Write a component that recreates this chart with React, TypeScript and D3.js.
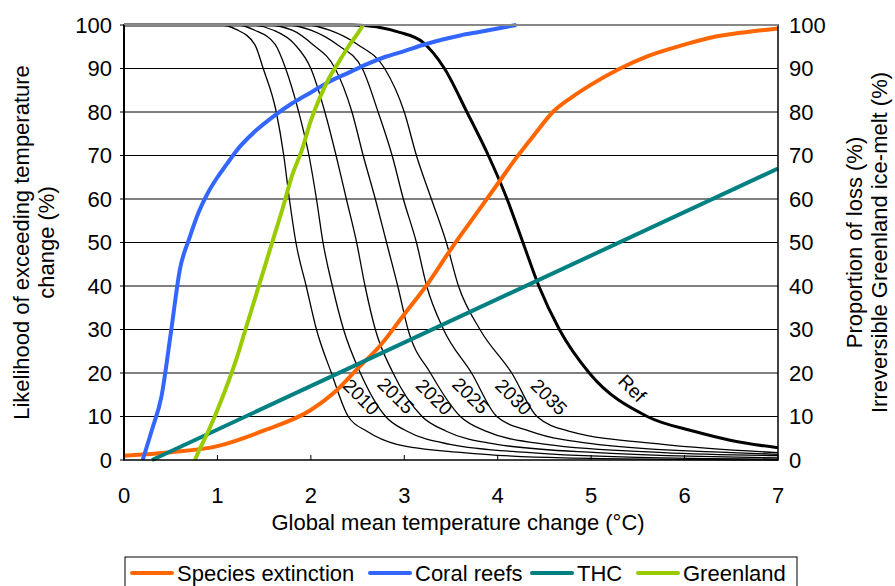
import * as d3 from 'd3';
import React, { useEffect, useRef } from 'react';

// x = global mean temperature change (°C), y = percent
const speciesExtinction = [
  [0, 1], [0.5, 1.8], [1, 3.2], [1.5, 6.8], [2, 11.5], [2.25, 15.5], [2.5, 21], [2.75, 26.5],
  [3, 33.5], [3.25, 40.5], [3.5, 48.5], [3.75, 56], [4, 63.5], [4.2, 69.5], [4.4, 75],
  [4.59, 80], [4.8, 83.5], [5, 86.3], [5.31, 90], [5.6, 92.8], [6, 95.5], [6.3, 97.2],
  [6.6, 98.2], [7, 99.2],
];
const coralReefs = [
  [0.2, 0], [0.3, 7], [0.4, 14.5], [0.5, 29], [0.6, 44], [0.7, 51], [0.8, 57], [0.9, 61.5],
  [1.0, 65], [1.1, 68], [1.2, 71], [1.4, 75.5], [1.6, 79], [1.8, 82], [2.0, 84.5], [2.2, 87],
  [2.4, 89], [2.6, 91], [2.8, 92.7], [3.0, 94], [3.2, 95.4], [3.4, 96.6], [3.6, 97.6],
  [3.8, 98.4], [4.0, 99.2], [4.2, 100],
];
const thc = [[0.3, 0], [7, 67]];
const greenland = [
  [0.76, 0], [0.8, 2], [0.9, 6.5], [1.0, 11.5], [1.1, 17], [1.2, 23], [1.3, 30], [1.4, 37],
  [1.5, 44], [1.6, 51], [1.7, 58], [1.8, 65.5], [1.9, 71], [2.0, 78], [2.1, 83.5], [2.2, 88],
  [2.3, 91.5], [2.4, 95], [2.5, 98], [2.56, 100],
];

// likelihood of exceeding temperature change, per stabilisation year
const likelihood2010 = [
  [0, 100], [1.03, 100], [1.2, 99], [1.4, 95.5], [1.49, 90], [1.63, 80], [1.71, 70], [1.77, 60],
  [1.84, 50], [1.95, 40], [2.06, 30], [2.22, 20], [2.4, 10], [2.6, 6.6], [2.92, 3.6],
  [3.63, 1.7], [4.7, 0.5], [7, 0],
];
const likelihood2015 = [
  [0, 100], [1.21, 100], [1.4, 98.8], [1.62, 95.5], [1.73, 90], [1.87, 80], [1.98, 70],
  [2.06, 60], [2.13, 50], [2.23, 40], [2.35, 30], [2.53, 20], [2.8, 10], [3.03, 6.6],
  [3.49, 3.6], [4.35, 1.7], [5.5, 0.6], [7, 0.2],
];
const likelihood2020 = [
  [0, 100], [1.35, 100], [1.6, 98.8], [1.83, 95.5], [2.0, 90], [2.15, 80], [2.27, 70],
  [2.38, 60], [2.49, 50], [2.58, 40], [2.69, 30], [2.88, 20], [3.19, 10], [3.45, 6.6],
  [3.99, 3.6], [5.06, 1.7], [7, 0.5],
];
const likelihood2025 = [
  [0, 100], [1.53, 100], [1.8, 98.8], [2.02, 95.5], [2.26, 90], [2.44, 80], [2.56, 70],
  [2.69, 60], [2.81, 50], [2.93, 40], [3.04, 30], [3.28, 20], [3.6, 10], [3.88, 6.6],
  [4.52, 3.6], [5.77, 1.7], [7, 1],
];
const likelihood2030 = [
  [0, 100], [1.74, 100], [2.0, 98.8], [2.28, 95.5], [2.55, 90], [2.72, 80], [2.87, 70],
  [2.99, 60], [3.13, 50], [3.24, 40], [3.42, 30], [3.72, 20], [3.99, 10], [4.35, 6.6],
  [5.06, 3.6], [6.5, 1.7], [7, 1.3],
];
const likelihood2035 = [
  [0, 100], [1.96, 100], [2.2, 98.8], [2.5, 95.5], [2.79, 90], [3.0, 80], [3.13, 70],
  [3.29, 60], [3.45, 50], [3.58, 40], [3.81, 30], [4.15, 20], [4.42, 10], [4.77, 6.6],
  [5.77, 3.6], [7, 1.7],
];
const likelihoodRef = [
  [0, 100], [2.45, 100], [2.95, 98.3], [3.2, 96], [3.43, 90], [3.67, 80], [3.9, 70],
  [4.1, 60], [4.27, 50], [4.44, 40], [4.66, 30], [4.98, 20], [5.6, 10], [6.1, 6.6],
  [6.5, 4.5], [7, 2.8],
];

const yearLabels = ['2010', '2015', '2020', '2025', '2030', '2035', 'Ref'];
// where each curve label sits (°C, %)
const yearLabelAt = [
  [2.54, 14.5], [2.91, 14.8], [3.32, 14.5], [3.71, 14.8], [4.17, 14.5], [4.55, 14.5], [5.44, 16.5],
];

const xTicks = [0, 1, 2, 3, 4, 5, 6, 7];
const yTicks = [0, 10, 20, 30, 40, 50, 60, 70, 80, 90, 100];

const legendNames = ['Species extinction', 'Coral reefs', 'THC', 'Greenland'];
const legendColors = ['#FF6600', '#3366FF', '#008080', '#99CC00'];

const width = 895;
const height = 586;
const FONT = 'Liberation Sans, Arial, sans-serif';
const FS = '22px';

const App = () => {
  const svgRef = useRef(null);

  useEffect(() => {
    const svg = d3.select(svgRef.current);
    svg.selectAll('*').remove();

    const x = d3.scaleLinear().domain([0, 7]).range([124, 778]);
    const y = d3.scaleLinear().domain([0, 100]).range([460, 25]);

    const line = d3
      .line()
      .x((d) => x(d[0]))
      .y((d) => y(d[1]))
      .curve(d3.curveMonotoneX);

    // grid
    svg
      .append('g')
      .selectAll('line')
      .data(yTicks.slice(1, -1))
      .enter()
      .append('line')
      .attr('x1', x(0))
      .attr('x2', x(7))
      .attr('y1', (d) => y(d))
      .attr('y2', (d) => y(d))
      .attr('stroke', '#000')
      .attr('stroke-width', 1);

    // black likelihood curves
    const blackCurves = [
      likelihood2010, likelihood2015, likelihood2020, likelihood2025, likelihood2030, likelihood2035,
    ];
    svg
      .append('g')
      .selectAll('path')
      .data(blackCurves)
      .enter()
      .append('path')
      .attr('d', (d) => line(d))
      .attr('fill', 'none')
      .attr('stroke', '#000')
      .attr('stroke-width', 1.3);

    svg
      .append('path')
      .attr('d', line(likelihoodRef))
      .attr('fill', 'none')
      .attr('stroke', '#000')
      .attr('stroke-width', 3);

    // coloured series
    const series = [speciesExtinction, coralReefs, thc, greenland];
    svg
      .append('g')
      .selectAll('path')
      .data(series)
      .enter()
      .append('path')
      .attr('d', (d) => line(d))
      .attr('fill', 'none')
      .attr('stroke', (d, i) => legendColors[i])
      .attr('stroke-width', 4)
      .attr('stroke-linejoin', 'round');

    // curve labels
    svg
      .append('g')
      .selectAll('text')
      .data(yearLabels)
      .enter()
      .append('text')
      .attr('transform', (d, i) => `translate(${x(yearLabelAt[i][0])},${y(yearLabelAt[i][1])}) rotate(45)`)
      .attr('text-anchor', 'middle')
      .attr('dy', '0.35em')
      .style('font-family', FONT)
      .style('font-size', '19px')
      .attr('fill', '#000')
      .text((d) => d);

    // frame
    svg
      .append('rect')
      .attr('x', x(0))
      .attr('y', y(100))
      .attr('width', x(7) - x(0))
      .attr('height', y(0) - y(100))
      .attr('fill', 'none')
      .attr('stroke', '#000')
      .attr('stroke-width', 1.5);
    svg
      .append('line')
      .attr('x1', x(0))
      .attr('x2', x(7))
      .attr('y1', y(100))
      .attr('y2', y(100))
      .attr('stroke', '#888')
      .attr('stroke-width', 2);
    svg
      .append('line')
      .attr('x1', x(0))
      .attr('x2', x(0))
      .attr('y1', y(100))
      .attr('y2', y(0))
      .attr('stroke', '#000')
      .attr('stroke-width', 2);

    // x ticks + labels
    const xg = svg.append('g');
    xg.selectAll('line')
      .data(xTicks)
      .enter()
      .append('line')
      .attr('x1', (d) => x(d))
      .attr('x2', (d) => x(d))
      .attr('y1', y(0))
      .attr('y2', y(0) - 5)
      .attr('stroke', '#000');
    xg.selectAll('text')
      .data(xTicks)
      .enter()
      .append('text')
      .attr('x', (d) => x(d))
      .attr('y', 503)
      .attr('text-anchor', 'middle')
      .style('font-family', FONT)
      .style('font-size', FS)
      .text((d) => d);

    // y ticks + labels, both sides
    const yg = svg.append('g');
    yg.selectAll('line.l')
      .data(yTicks)
      .enter()
      .append('line')
      .attr('x1', x(0) - 4)
      .attr('x2', x(0))
      .attr('y1', (d) => y(d))
      .attr('y2', (d) => y(d))
      .attr('stroke', '#000');
    yg.selectAll('text.l')
      .data(yTicks)
      .enter()
      .append('text')
      .attr('x', 112)
      .attr('y', (d) => y(d))
      .attr('dy', '0.36em')
      .attr('text-anchor', 'end')
      .style('font-family', FONT)
      .style('font-size', FS)
      .text((d) => d);
    yg.selectAll('text.r')
      .data(yTicks)
      .enter()
      .append('text')
      .attr('x', 789)
      .attr('y', (d) => y(d))
      .attr('dy', '0.36em')
      .attr('text-anchor', 'start')
      .style('font-family', FONT)
      .style('font-size', FS)
      .text((d) => d);

    // axis titles
    svg
      .append('text')
      .attr('x', (x(0) + x(7)) / 2 + 7)
      .attr('y', 530)
      .attr('text-anchor', 'middle')
      .style('font-family', FONT)
      .style('font-size', FS)
      .text('Global mean temperature change (°C)');

    const yTitle = (lines, xs) => {
      lines.forEach((t, i) => {
        svg
          .append('text')
          .attr('transform', `translate(${xs[i]},${(y(0) + y(100)) / 2}) rotate(-90)`)
          .attr('text-anchor', 'middle')
          .style('font-family', FONT)
          .style('font-size', FS)
          .text(t);
      });
    };
    yTitle(['Likelihood of exceeding temperature', 'change (%)'], [29, 54]);
    yTitle(['Proportion of loss (%)', 'Irreversible Greenland ice-melt (%)'], [862, 887]);

    // legend
    const lg = svg.append('g');
    lg.append('rect')
      .attr('x', 125)
      .attr('y', 557)
      .attr('width', 672)
      .attr('height', 40)
      .attr('fill', 'white')
      .attr('stroke', '#000')
      .attr('stroke-width', 1);
    const legendX = [130, 368, 530, 636];
    legendNames.forEach((name, i) => {
      lg.append('line')
        .attr('x1', legendX[i] + 2)
        .attr('x2', legendX[i] + 42)
        .attr('y1', 573)
        .attr('y2', 573)
        .attr('stroke', legendColors[i])
        .attr('stroke-width', 4)
        .attr('stroke-linecap', 'round');
      lg.append('text')
        .attr('x', legendX[i] + 47)
        .attr('y', 581)
        .style('font-family', FONT)
        .style('font-size', FS)
        .text(name);
    });
  }, []);

  return (
    <div style={{ position: 'absolute', left: 0, top: 0 }}>
      <svg ref={svgRef} width={width} height={height} style={{ display: 'block', background: 'white' }} />
    </div>
  );
};

export default App;
